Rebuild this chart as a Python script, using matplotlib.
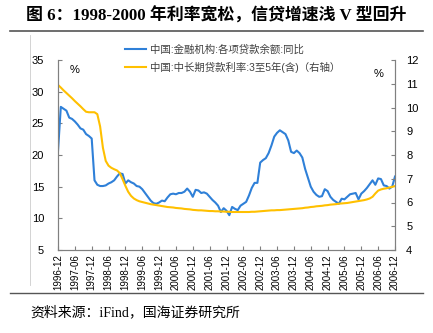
import numpy as np
import matplotlib.pyplot as plt
from matplotlib.lines import Line2D

plt.rcParams['font.family'] = ['Liberation Sans', 'Noto Sans CJK SC']

# monthly data, 1996-12 .. 2006-12
loan_growth = [20.6, 27.6, 27.3, 27.0, 25.9, 25.7, 25.3, 24.8, 24.2, 24.0,
               23.3, 23.0, 22.6, 16.0, 15.3, 15.1, 15.1, 15.2, 15.5, 15.7,
               16.0, 16.6, 17.1, 17.0, 15.5, 16.0, 15.7, 15.5, 15.1, 15.0,
               14.6, 14.0, 13.4, 12.8, 12.4, 12.3, 12.5, 12.8, 12.7, 13.3,
               13.8, 13.9, 13.8, 14.0, 14.0, 14.2, 14.7, 14.2, 13.4, 14.5,
               14.4, 14.0, 14.1, 13.9, 13.4, 12.9, 12.5, 12.0, 11.0, 11.6,
               11.2, 10.5, 11.8, 11.5, 11.3, 12.0, 12.3, 12.6, 13.6, 14.8,
               15.6, 15.6, 18.8, 19.2, 19.5, 20.3, 21.5, 22.9, 23.5, 23.9,
               23.6, 23.3, 22.3, 20.5, 20.3, 20.7, 20.3, 19.6, 17.8, 16.4,
               15.0, 14.2, 13.7, 13.4, 13.5, 14.6, 14.3, 13.4, 12.9, 12.6,
               12.3, 13.1, 13.0, 13.4, 13.8, 13.9, 14.0, 13.0, 13.9, 14.3,
               14.8, 15.4, 16.0, 15.3, 16.3, 16.2, 15.2, 15.1, 14.7, 15.0,
               16.6]

loan_rate = [10.95, 10.84, 10.72, 10.61, 10.50, 10.39, 10.27, 10.16, 10.05, 9.93,
             9.82, 9.80, 9.80, 9.80, 9.72, 9.20, 8.30, 7.75, 7.55, 7.46,
             7.40, 7.35, 7.24, 6.98, 6.70, 6.45, 6.28, 6.17, 6.10, 6.05,
             6.02, 5.99, 5.96, 5.93, 5.91, 5.89, 5.87, 5.85, 5.83, 5.81,
             5.80, 5.79, 5.77, 5.76, 5.75, 5.73, 5.72, 5.71, 5.69, 5.68,
             5.67, 5.67, 5.66, 5.65, 5.64, 5.64, 5.63, 5.63, 5.62, 5.62,
             5.61, 5.61, 5.60, 5.60, 5.60, 5.60, 5.60, 5.60, 5.60, 5.61,
             5.61, 5.62, 5.63, 5.64, 5.65, 5.66, 5.67, 5.67, 5.68, 5.68,
             5.69, 5.70, 5.71, 5.72, 5.73, 5.74, 5.75, 5.76, 5.78, 5.79,
             5.81, 5.82, 5.84, 5.85, 5.86, 5.88, 5.89, 5.91, 5.92, 5.93,
             5.95, 5.96, 5.97, 5.98, 6.00, 6.02, 6.04, 6.06, 6.08, 6.10,
             6.13, 6.17, 6.24, 6.38, 6.50, 6.55, 6.58, 6.60, 6.63, 6.66,
             6.69]

tick_labels = ['1996-12', '1997-06', '1997-12', '1998-06', '1998-12', '1999-06',
               '1999-12', '2000-06', '2000-12', '2001-06', '2001-12', '2002-06',
               '2002-12', '2003-06', '2003-12', '2004-06', '2004-12', '2005-06',
               '2005-12', '2006-06', '2006-12']

blue = '#2f80d8'
gold = '#ffc000'
grey = '#808080'

fig = plt.figure(figsize=(4.33, 3.33), dpi=100)
ax = fig.add_axes([58/433, 1-250/333, (395-58)/433, (250-60)/333])
ax2 = ax.twinx()

months = np.arange(len(loan_growth))
ax.plot(months, loan_growth, color=blue, lw=1.5)
ax2.plot(months, loan_rate, color=gold, lw=1.5)

ax.set_xlim(0, 120)
ax.set_ylim(5, 35)
ax2.set_ylim(4, 12)
ax.set_yticks(range(5, 36, 5))
ax2.set_yticks(range(4, 13))
ax.set_xticks(range(0, 121, 6))
ax.set_xticklabels(tick_labels, rotation=90, fontsize=7)
ax.tick_params(axis='y', labelsize=8, direction='in', length=3, color=grey, pad=10)
ax2.tick_params(axis='y', labelsize=8, direction='in', length=3, color=grey, pad=8)
ax.tick_params(axis='x', direction='in', length=3, color=grey, pad=3)

for a in (ax, ax2):
    a.spines['top'].set_visible(False)
    for s in ('left', 'right', 'bottom'):
        a.spines[s].set_color(grey)
ax.patch.set_visible(False)

ax.text(0.035, 0.93, '%', transform=ax.transAxes, fontsize=8)
ax2.text(0.965, 0.91, '%', transform=ax.transAxes, fontsize=8, ha='right')

handles = [Line2D([], [], color=blue, lw=1.5), Line2D([], [], color=gold, lw=1.5)]
labels = ['中国:金融机构:各项贷款余额:同比', '中国:中长期贷款利率:3至5年(含)（右轴）']
fig.legend(handles, labels, loc='upper left', bbox_to_anchor=(116/433, 1-35/333),
           frameon=False, fontsize=7.5, handlelength=2.0, handletextpad=0.4,
           labelspacing=0.7, labelcolor='#404040')

# title, rules and source
fig.text(0.5, 1-16/333, '图 6：1998-2000 年利率宽松，信贷增速浅 V 型回升',
         ha='center', va='center', fontsize=12.2, fontweight='bold',
         family=['Liberation Serif', 'Noto Sans CJK SC'])
fig.add_artist(Line2D([10/433, 423/433], [1-31/333, 1-31/333], color='#555555', lw=1.2))
fig.add_artist(Line2D([10/433, 423/433], [1-293/333, 1-293/333], color='#555555', lw=1.0))
fig.add_artist(Line2D([30/433, 30/433], [1-35/333, 1-285/333], color='#cccccc', lw=0.6))
fig.text(30/433, 1-312/333, '资料来源：iFind，国海证券研究所', ha='left', va='center',
         fontsize=10, family=['Liberation Serif', 'Noto Sans CJK SC'])

fig.savefig('out.png', dpi=100)
